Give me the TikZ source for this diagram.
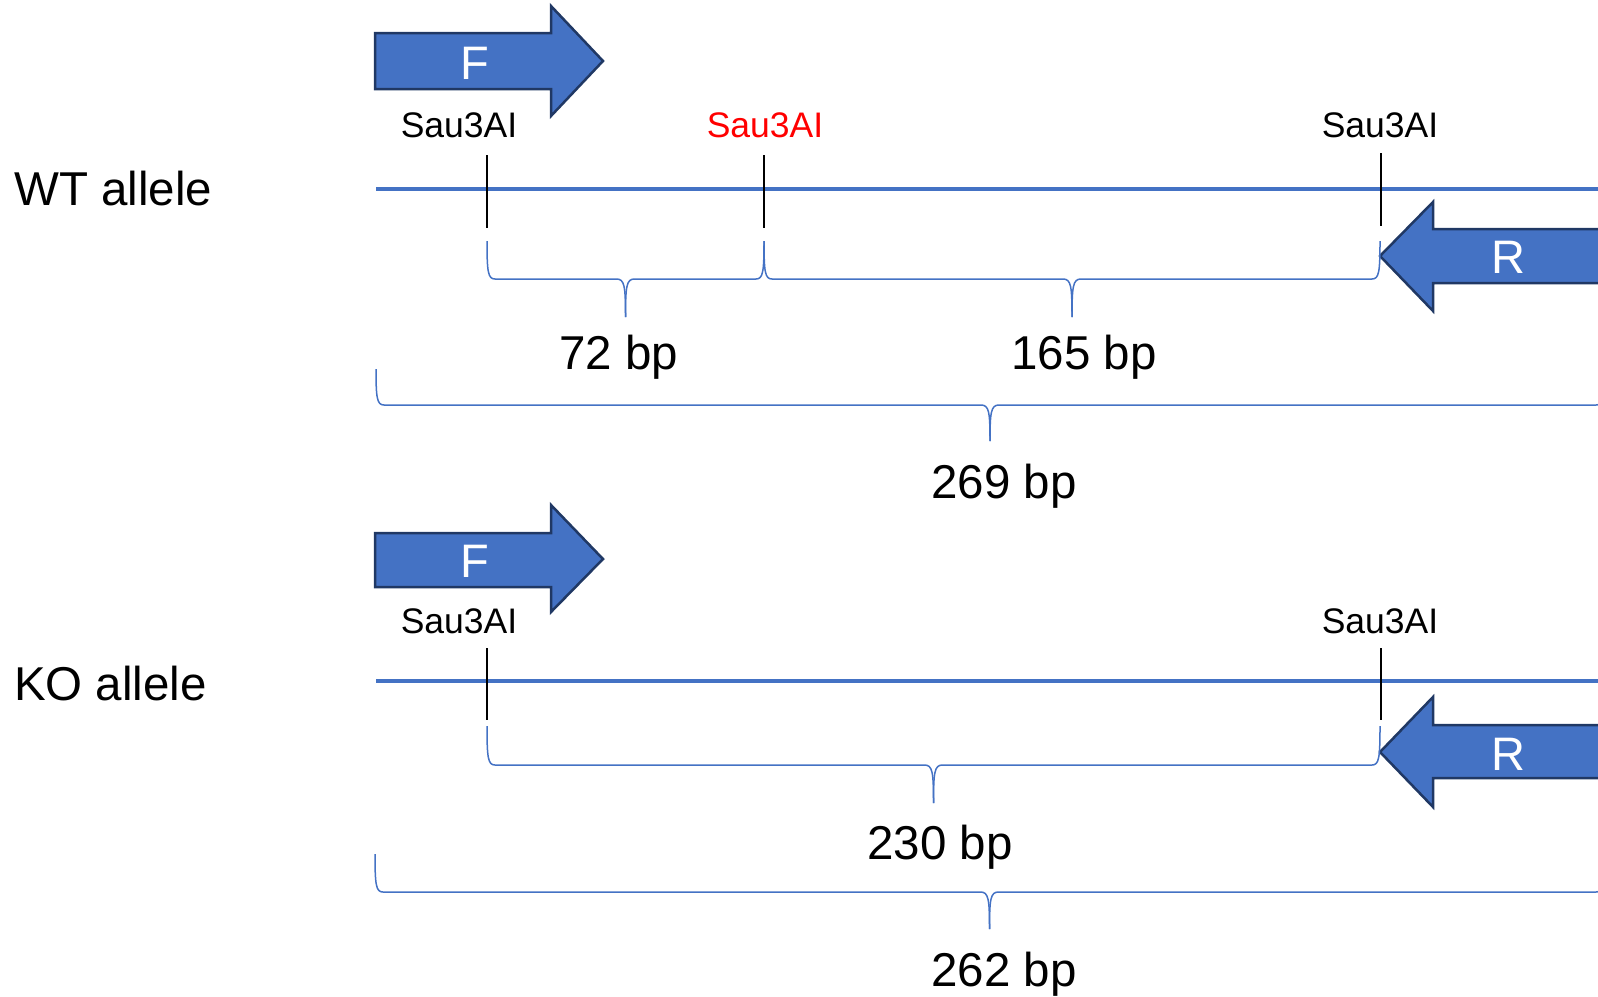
\documentclass[tikz,border=0pt]{standalone}
\usepackage{fontspec}
\setmainfont{Liberation Sans}
\definecolor{accblue}{HTML}{4472C4}
\definecolor{accdark}{HTML}{203864}
\definecolor{sitered}{HTML}{FF0000}
\newcommand{\brc}[6]{% x0 x1 xm yt yh ytip
  \draw[bracestyle] (#1,#4) .. controls (#1,#5-7) and (#1+1,#5) .. (#1+8,#5) -- (#3-9,#5) .. controls (#3-1,#5) and (#3,#5+7) .. (#3,#6);
  \draw[bracestyle] (#2,#4) .. controls (#2,#5-7) and (#2-1,#5) .. (#2-8,#5) -- (#3+9,#5) .. controls (#3+1,#5) and (#3,#5+7) .. (#3,#6);}
\begin{document}
\begin{tikzpicture}[x=1pt,y=-1pt,
  bigtxt/.style={inner sep=0pt,font=\fontsize{47.5}{56}\selectfont},
  sitetxt/.style={inner sep=0pt,anchor=base,font=\fontsize{35.5}{42}\selectfont},
  primertxt/.style={inner sep=0pt,anchor=base,text=white,font=\fontsize{47}{56}\selectfont},
  dnaline/.style={draw=accblue,line width=4pt},
  tick/.style={draw=black,line width=2.5pt},
  bracestyle/.style={draw=accblue,line width=1.5pt},
  primer/.style={fill=accblue,draw=accdark,line width=2.5pt,line join=miter}]
\useasboundingbox (0,0) rectangle (1598,996);
\clip (0,0) rectangle (1598,996);

% ---------- WT allele ----------
\node[bigtxt,anchor=base west] (wtlab) at (14,205) {WT allele};
\coordinate (wtL) at (376,188.5);
\coordinate (wtR) at (1610,188.5);
\draw[dnaline] (wtL) -- (wtR);

% F primer
\draw[primer] (375,33) -- (551,33) -- (551,6) -- (603,61) -- (551,116) -- (551,89) -- (375,89) -- cycle;
\node[primertxt] (wtF) at (475,79) {F};
% R primer
\draw[primer] (1610,229) -- (1433,229) -- (1433,202) -- (1380,256) -- (1433,311) -- (1433,283) -- (1610,283);
\node[primertxt] (wtR) at (1508,273) {R};

% sites
\node[sitetxt] (wts1) at (459,137) {Sau3AI};
\node[sitetxt,text=sitered] (wts2) at (765,137) {Sau3AI};
\node[sitetxt] (wts3) at (1380,137) {Sau3AI};
\coordinate (wtt1a) at (487,155); \coordinate (wtt1b) at (487,228);
\coordinate (wtt2a) at (764,155); \coordinate (wtt2b) at (764,228);
\coordinate (wtt3a) at (1381,153); \coordinate (wtt3b) at (1381,226);
\draw[tick] (wtt1a) -- (wtt1b);
\draw[tick] (wtt2a) -- (wtt2b);
\draw[tick] (wtt3a) -- (wtt3b);

% braces
\brc{487}{764}{625.5}{241}{279}{317}
\brc{764}{1380}{1072}{241}{279}{317}
\brc{376}{1604}{990}{369}{405}{441}
\node[bigtxt,anchor=base] (wt72) at (619,369) {72 bp};
\node[bigtxt,anchor=base] (wt165) at (1084,369) {165 bp};
\node[bigtxt,anchor=base] (wt269) at (1004,498) {269 bp};

% ---------- KO allele ----------
\node[bigtxt,anchor=base west] (kolab) at (14,700) {KO allele};
\coordinate (koL) at (376,681);
\coordinate (koR) at (1610,681);
\draw[dnaline] (koL) -- (koR);

\draw[primer] (375,533) -- (551,533) -- (551,505) -- (603,559) -- (551,612) -- (551,587) -- (375,587) -- cycle;
\node[primertxt] (koF) at (475,577) {F};
\draw[primer] (1610,725) -- (1433,725) -- (1433,697) -- (1380,752) -- (1433,807) -- (1433,778) -- (1610,778);
\node[primertxt] (koRlab) at (1508,770) {R};

\node[sitetxt] (kos1) at (459,633) {Sau3AI};
\node[sitetxt] (kos3) at (1380,633) {Sau3AI};
\coordinate (kot1a) at (487,648); \coordinate (kot1b) at (487,720);
\coordinate (kot3a) at (1381,648); \coordinate (kot3b) at (1381,720);
\draw[tick] (kot1a) -- (kot1b);
\draw[tick] (kot3a) -- (kot3b);

\brc{487}{1380}{933.5}{726}{765}{803}
\brc{375}{1604}{989.5}{854}{892}{929}
\node[bigtxt,anchor=base] (ko230) at (940,859) {230 bp};
\node[bigtxt,anchor=base] (ko262) at (1004,986) {262 bp};
\end{tikzpicture}
\end{document}
